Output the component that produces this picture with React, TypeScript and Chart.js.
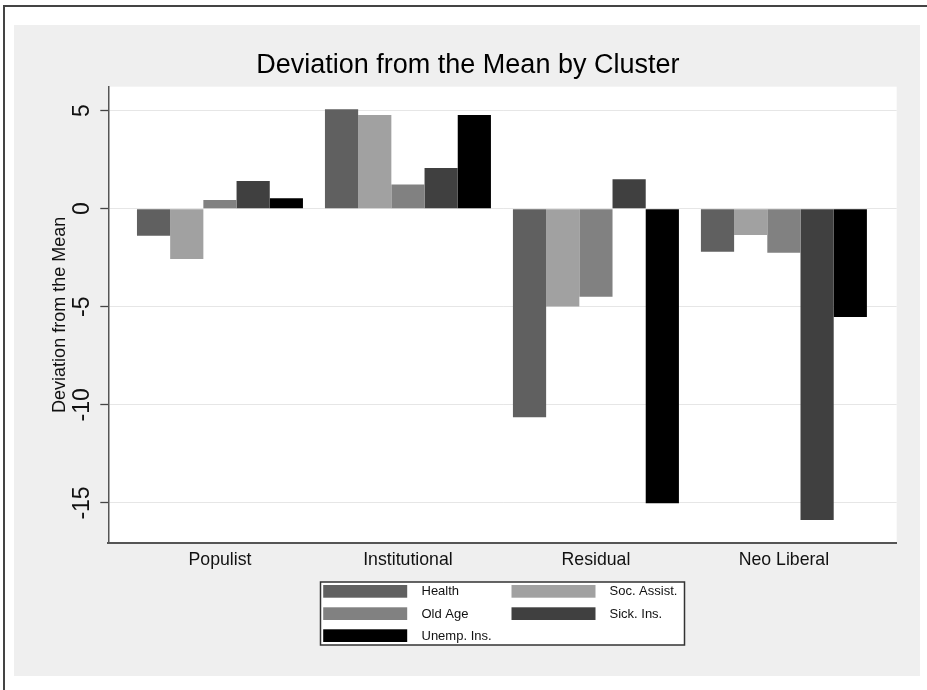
import React, { useEffect, useRef } from 'react';
import { Chart, registerables } from 'chart.js';

Chart.register(...registerables);

// ---- data ----
const categories = ['Populist', 'Institutional', 'Residual', 'Neo Liberal'];
const seriesNames = ['Health', 'Soc. Assist.', 'Old Age', 'Sick. Ins.', 'Unemp. Ins.'];
const health = [-1.38, 5.07, -10.63, -2.19];
const socAssist = [-2.56, 4.78, -4.99, -1.34];
const oldAge = [0.44, 1.24, -4.49, -2.24];
const sickIns = [1.41, 2.07, 1.5, -15.87];
const unempIns = [0.53, 4.78, -15.02, -5.52];
const seriesColors = ['#606060', '#a1a1a1', '#818181', '#404040', '#000000'];
const yTicks = [5, 0, -5, -10, -15];
const yMin = -17.04;
const yMax = 6.22;
const chartTitle = 'Deviation from the Mean by Cluster';
const yTitle = 'Deviation from the Mean';

const FONT = '"Liberation Sans", Arial, Helvetica, sans-serif';

const bgPlugin = {
  id: 'stataBackground',
  beforeDraw(chart: any) {
    const { ctx, chartArea, width, height } = chart;
    ctx.save();
    ctx.fillStyle = '#ffffff';
    ctx.fillRect(0, 0, width, height);
    ctx.fillStyle = '#efefef';
    ctx.fillRect(14, 25, 906, 651);
    ctx.fillStyle = '#ffffff';
    ctx.fillRect(chartArea.left, chartArea.top, chartArea.right - chartArea.left, chartArea.bottom - chartArea.top);
    ctx.strokeStyle = '#444444';
    ctx.lineWidth = 2;
    ctx.beginPath();
    ctx.moveTo(4, height);
    ctx.lineTo(4, 6);
    ctx.lineTo(width, 6);
    ctx.stroke();
    ctx.restore();
  },
};

const legendPlugin = {
  id: 'stataLegend',
  afterDraw(chart: any) {
    const { ctx, chartArea } = chart;
    const cx = (chartArea.left + chartArea.right) / 2;
    const boxW = 364;
    const boxH = 63;
    const bx = cx - boxW / 2;
    const by = 582;
    ctx.save();
    ctx.fillStyle = '#ffffff';
    ctx.fillRect(bx, by, boxW, boxH);
    ctx.strokeStyle = '#333333';
    ctx.lineWidth = 1.5;
    ctx.strokeRect(bx, by, boxW, boxH);
    const colSwatch = [2.7, 191];
    const colLabel = [101, 289];
    const rowTop = [3, 25.3, 47.3];
    const swW = 84;
    const swH = 12.7;
    ctx.font = `13px ${FONT}`;
    ctx.textBaseline = 'middle';
    ctx.textAlign = 'left';
    chart.data.datasets.forEach((ds: any, i: number) => {
      const col = i % 2;
      const row = Math.floor(i / 2);
      ctx.fillStyle = ds.backgroundColor;
      ctx.fillRect(bx + colSwatch[col], by + rowTop[row], swW, swH);
      ctx.fillStyle = '#111111';
      ctx.fillText(ds.label, bx + colLabel[col], by + rowTop[row] + swH / 2 + 0.3);
    });
    ctx.restore();
  },
};

export default function App() {
  const ref = useRef<HTMLCanvasElement>(null);

  useEffect(() => {
    const seriesData = [health, socAssist, oldAge, sickIns, unempIns];
    Chart.defaults.font.family = FONT;
    const chart = new Chart(ref.current as HTMLCanvasElement, {
      type: 'bar',
      data: {
        labels: categories,
        datasets: seriesNames.map((name, i) => ({
          label: name,
          data: seriesData[i],
          backgroundColor: seriesColors[i],
          borderWidth: 0,
          categoryPercentage: 0.883,
          barPercentage: 1,
        })),
      },
      options: {
        responsive: false,
        animation: false,
        devicePixelRatio: 1,
        layout: { padding: { left: 39, right: 30.3, top: 0, bottom: 107 } },
        plugins: {
          legend: { display: false },
          tooltip: { enabled: false },
          title: {
            display: true,
            text: chartTitle,
            color: '#000000',
            font: { size: 27, weight: 'normal', family: FONT },
            padding: { top: 49.1, bottom: 5.2 },
          },
        },
        scales: {
          x: {
            grid: { display: true, color: 'rgba(0,0,0,0)', drawTicks: false },
            border: { display: true, color: '#555555', width: 2 },
            ticks: {
              color: '#111111',
              font: { size: 17.7 },
              padding: 6.5,
              autoSkip: false,
              maxRotation: 0,
              minRotation: 0,
            },
            afterFit: (s: any) => {
              s.height = 40;
            },
            afterBuildTicks: (s: any) => {
              s._startValue -= 0.094;
              s._valueRange += 0.194;
            },
          },
          y: {
            min: yMin,
            max: yMax,
            afterBuildTicks: (s: any) => {
              s.ticks = yTicks.map((v) => ({ value: v }));
            },
            grid: { color: '#e6e6e6', lineWidth: 1, tickColor: '#444444', tickLength: 8, tickWidth: 1.3 },
            border: { display: true, color: '#555555', width: 1.5 },
            ticks: {
              color: '#111111',
              font: { size: 23 },
              padding: 1,
              minRotation: 90,
              maxRotation: 90,
              crossAlign: 'center',
              autoSkip: false,
              callback: (v: any) => String(v),
            },
            title: {
              display: true,
              text: yTitle,
              color: '#111111',
              font: { size: 18 },
              padding: { top: 9.9, bottom: 0 },
            },
            afterFit: (s: any) => {
              s.width = 69.3;
            },
          },
        },
      },
      plugins: [bgPlugin, legendPlugin],
    } as any);
    return () => chart.destroy();
  }, []);

  return (
    <div style={{ position: 'absolute', left: 0, top: 0, width: 927, height: 690 }}>
      <canvas ref={ref} width={927} height={690} style={{ display: 'block' }} />
    </div>
  );
}
